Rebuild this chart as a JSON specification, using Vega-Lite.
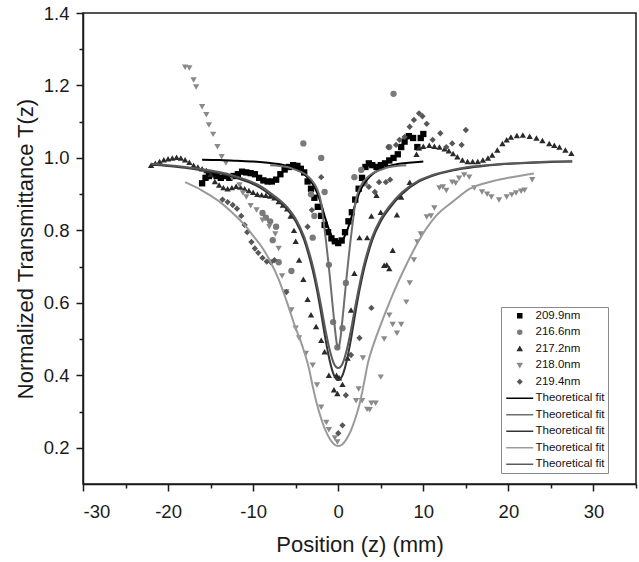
{
  "$schema": "https://vega.github.io/schema/vega-lite/v6.json",
  "autosize": {"type": "none"},
  "width": 553,
  "height": 471,
  "padding": {"left": 83, "top": 13, "right": 3, "bottom": 78},
  "background": "white",
  "datasets": {
    "pts": [
      {"s":"209.9nm","z":-16.0,"T":0.930},{"s":"209.9nm","z":-15.6,"T":0.945},{"s":"209.9nm","z":-15.2,"T":0.950},{"s":"209.9nm","z":-14.8,"T":0.955},{"s":"209.9nm","z":-14.3,"T":0.950},{"s":"209.9nm","z":-13.8,"T":0.945},{"s":"209.9nm","z":-13.3,"T":0.950},{"s":"209.9nm","z":-12.8,"T":0.945},{"s":"209.9nm","z":-12.3,"T":0.950},{"s":"209.9nm","z":-11.8,"T":0.955},{"s":"209.9nm","z":-11.3,"T":0.962},{"s":"209.9nm","z":-10.8,"T":0.960},{"s":"209.9nm","z":-10.3,"T":0.958},{"s":"209.9nm","z":-9.8,"T":0.955},{"s":"209.9nm","z":-9.3,"T":0.945},{"s":"209.9nm","z":-8.8,"T":0.938},{"s":"209.9nm","z":-8.3,"T":0.935},{"s":"209.9nm","z":-7.8,"T":0.935},{"s":"209.9nm","z":-7.3,"T":0.940},{"s":"209.9nm","z":-6.8,"T":0.955},{"s":"209.9nm","z":-6.3,"T":0.968},{"s":"209.9nm","z":-5.8,"T":0.975},{"s":"209.9nm","z":-5.3,"T":0.980},{"s":"209.9nm","z":-4.8,"T":0.978},{"s":"209.9nm","z":-4.4,"T":0.970},{"s":"209.9nm","z":-4.0,"T":0.960},{"s":"209.9nm","z":-3.6,"T":0.935},{"s":"209.9nm","z":-3.2,"T":0.915},{"s":"209.9nm","z":-2.8,"T":0.890},{"s":"209.9nm","z":-2.4,"T":0.865},{"s":"209.9nm","z":-2.0,"T":0.840},{"s":"209.9nm","z":-1.6,"T":0.815},{"s":"209.9nm","z":-1.2,"T":0.795},{"s":"209.9nm","z":-0.8,"T":0.778},{"s":"209.9nm","z":-0.4,"T":0.770},{"s":"209.9nm","z":0.0,"T":0.765},{"s":"209.9nm","z":0.4,"T":0.772},{"s":"209.9nm","z":0.8,"T":0.795},{"s":"209.9nm","z":1.2,"T":0.825},{"s":"209.9nm","z":1.6,"T":0.850},{"s":"209.9nm","z":2.0,"T":0.885},{"s":"209.9nm","z":2.4,"T":0.915},{"s":"209.9nm","z":2.8,"T":0.945},{"s":"209.9nm","z":3.2,"T":0.975},{"s":"209.9nm","z":3.6,"T":0.985},{"s":"209.9nm","z":4.0,"T":0.980},{"s":"209.9nm","z":4.5,"T":0.975},{"s":"209.9nm","z":5.0,"T":0.980},{"s":"209.9nm","z":5.5,"T":0.985},{"s":"209.9nm","z":6.0,"T":0.993},{"s":"209.9nm","z":6.5,"T":1.000},{"s":"209.9nm","z":7.0,"T":1.010},{"s":"209.9nm","z":7.4,"T":1.030},{"s":"209.9nm","z":7.8,"T":1.045},{"s":"209.9nm","z":8.3,"T":1.060},{"s":"209.9nm","z":8.8,"T":1.055},{"s":"209.9nm","z":9.3,"T":1.030},{"s":"209.9nm","z":9.7,"T":1.055},{"s":"209.9nm","z":10.0,"T":1.066},

      {"s":"216.6nm","z":-8.9,"T":0.848},{"s":"216.6nm","z":-8.5,"T":0.835},{"s":"216.6nm","z":-8.0,"T":0.825},{"s":"216.6nm","z":-7.7,"T":0.773},{"s":"216.6nm","z":-7.3,"T":0.810},{"s":"216.6nm","z":-7.0,"T":0.712},{"s":"216.6nm","z":-5.5,"T":0.688},{"s":"216.6nm","z":-4.1,"T":1.040},{"s":"216.6nm","z":-3.2,"T":0.900},{"s":"216.6nm","z":-3.0,"T":0.780},{"s":"216.6nm","z":-2.8,"T":0.840},{"s":"216.6nm","z":-2.0,"T":1.000},{"s":"216.6nm","z":-1.6,"T":0.906},{"s":"216.6nm","z":-1.1,"T":0.705},{"s":"216.6nm","z":-0.6,"T":0.547},{"s":"216.6nm","z":-0.1,"T":0.477},{"s":"216.6nm","z":0.5,"T":0.530},{"s":"216.6nm","z":0.9,"T":0.655},{"s":"216.6nm","z":1.9,"T":0.947},{"s":"216.6nm","z":2.7,"T":0.967},{"s":"216.6nm","z":3.1,"T":0.930},{"s":"216.6nm","z":6.0,"T":1.030},{"s":"216.6nm","z":6.5,"T":1.177},

      {"s":"217.2nm","z":-22.0,"T":0.980},{"s":"217.2nm","z":-21.5,"T":0.985},{"s":"217.2nm","z":-21.0,"T":0.990},{"s":"217.2nm","z":-20.5,"T":0.995},{"s":"217.2nm","z":-20.0,"T":0.998},{"s":"217.2nm","z":-19.5,"T":1.000},{"s":"217.2nm","z":-19.0,"T":1.002},{"s":"217.2nm","z":-18.5,"T":1.000},{"s":"217.2nm","z":-18.0,"T":0.995},{"s":"217.2nm","z":-17.5,"T":0.988},{"s":"217.2nm","z":-17.0,"T":0.980},{"s":"217.2nm","z":-16.5,"T":0.975},{"s":"217.2nm","z":-16.0,"T":0.970},{"s":"217.2nm","z":-15.5,"T":0.965},{"s":"217.2nm","z":-15.0,"T":0.955},{"s":"217.2nm","z":-14.5,"T":0.935},{"s":"217.2nm","z":-14.0,"T":0.925},{"s":"217.2nm","z":-13.5,"T":0.918},{"s":"217.2nm","z":-13.0,"T":0.915},{"s":"217.2nm","z":-12.5,"T":0.918},{"s":"217.2nm","z":-12.0,"T":0.922},{"s":"217.2nm","z":-11.5,"T":0.920},{"s":"217.2nm","z":-11.0,"T":0.915},{"s":"217.2nm","z":-10.5,"T":0.910},{"s":"217.2nm","z":-10.0,"T":0.905},{"s":"217.2nm","z":-9.5,"T":0.900},{"s":"217.2nm","z":-9.0,"T":0.898},{"s":"217.2nm","z":-8.5,"T":0.897},{"s":"217.2nm","z":-8.0,"T":0.895},{"s":"217.2nm","z":-7.5,"T":0.890},{"s":"217.2nm","z":-7.0,"T":0.880},{"s":"217.2nm","z":-6.5,"T":0.870},{"s":"217.2nm","z":-6.0,"T":0.860},{"s":"217.2nm","z":-5.6,"T":0.840},{"s":"217.2nm","z":-5.2,"T":0.800},{"s":"217.2nm","z":-5.0,"T":0.770},{"s":"217.2nm","z":-4.6,"T":0.718},{"s":"217.2nm","z":-4.1,"T":0.665},{"s":"217.2nm","z":-3.6,"T":0.610},{"s":"217.2nm","z":-3.2,"T":0.567},{"s":"217.2nm","z":-2.6,"T":0.535},{"s":"217.2nm","z":-2.0,"T":0.497},{"s":"217.2nm","z":-1.6,"T":0.465},{"s":"217.2nm","z":-1.1,"T":0.400},{"s":"217.2nm","z":-0.5,"T":0.360},{"s":"217.2nm","z":-0.2,"T":0.400},{"s":"217.2nm","z":-0.1,"T":0.350},{"s":"217.2nm","z":0.1,"T":0.393},{"s":"217.2nm","z":0.5,"T":0.375},{"s":"217.2nm","z":1.1,"T":0.448},{"s":"217.2nm","z":1.5,"T":0.580},{"s":"217.2nm","z":1.9,"T":0.682},{"s":"217.2nm","z":2.5,"T":0.780},{"s":"217.2nm","z":3.4,"T":0.780},{"s":"217.2nm","z":3.9,"T":0.840},{"s":"217.2nm","z":4.5,"T":0.897},{"s":"217.2nm","z":5.0,"T":0.850},{"s":"217.2nm","z":5.4,"T":0.704},{"s":"217.2nm","z":5.7,"T":0.705},{"s":"217.2nm","z":6.0,"T":0.695},{"s":"217.2nm","z":6.4,"T":0.745},{"s":"217.2nm","z":6.9,"T":0.843},{"s":"217.2nm","z":7.4,"T":0.892},{"s":"217.2nm","z":8.4,"T":0.933},{"s":"217.2nm","z":9.2,"T":1.010},{"s":"217.2nm","z":9.5,"T":1.028},{"s":"217.2nm","z":10.0,"T":1.032},{"s":"217.2nm","z":10.7,"T":1.035},{"s":"217.2nm","z":11.3,"T":1.032},{"s":"217.2nm","z":11.9,"T":1.030},{"s":"217.2nm","z":12.5,"T":1.025},{"s":"217.2nm","z":13.0,"T":1.020},{"s":"217.2nm","z":13.5,"T":1.012},{"s":"217.2nm","z":14.0,"T":1.003},{"s":"217.2nm","z":14.6,"T":0.994},{"s":"217.2nm","z":15.2,"T":0.990},{"s":"217.2nm","z":15.8,"T":0.990},{"s":"217.2nm","z":16.4,"T":0.990},{"s":"217.2nm","z":17.0,"T":0.994},{"s":"217.2nm","z":17.6,"T":1.000},{"s":"217.2nm","z":18.1,"T":1.008},{"s":"217.2nm","z":18.7,"T":1.022},{"s":"217.2nm","z":19.3,"T":1.040},{"s":"217.2nm","z":19.8,"T":1.050},{"s":"217.2nm","z":20.3,"T":1.058},{"s":"217.2nm","z":21.0,"T":1.062},{"s":"217.2nm","z":21.7,"T":1.063},{"s":"217.2nm","z":22.5,"T":1.060},{"s":"217.2nm","z":23.3,"T":1.055},{"s":"217.2nm","z":24.0,"T":1.048},{"s":"217.2nm","z":24.8,"T":1.040},{"s":"217.2nm","z":25.4,"T":1.035},{"s":"217.2nm","z":26.0,"T":1.030},{"s":"217.2nm","z":26.7,"T":1.022},{"s":"217.2nm","z":27.4,"T":1.013},

      {"s":"218.0nm","z":-18.0,"T":1.250},{"s":"218.0nm","z":-17.5,"T":1.248},{"s":"218.0nm","z":-17.0,"T":1.215},{"s":"218.0nm","z":-16.7,"T":1.196},{"s":"218.0nm","z":-16.0,"T":1.141},{"s":"218.0nm","z":-15.5,"T":1.119},{"s":"218.0nm","z":-15.2,"T":1.091},{"s":"218.0nm","z":-14.7,"T":1.065},{"s":"218.0nm","z":-14.2,"T":1.031},{"s":"218.0nm","z":-13.7,"T":1.003},{"s":"218.0nm","z":-13.2,"T":0.986},{"s":"218.0nm","z":-12.5,"T":0.945},{"s":"218.0nm","z":-11.6,"T":0.925},{"s":"218.0nm","z":-11.2,"T":0.903},{"s":"218.0nm","z":-10.8,"T":0.892},{"s":"218.0nm","z":-10.3,"T":0.868},{"s":"218.0nm","z":-9.6,"T":0.856},{"s":"218.0nm","z":-8.9,"T":0.828},{"s":"218.0nm","z":-8.1,"T":0.810},{"s":"218.0nm","z":-7.4,"T":0.790},{"s":"218.0nm","z":-7.0,"T":0.750},{"s":"218.0nm","z":-6.6,"T":0.674},{"s":"218.0nm","z":-6.1,"T":0.630},{"s":"218.0nm","z":-5.5,"T":0.580},{"s":"218.0nm","z":-5.0,"T":0.530},{"s":"218.0nm","z":-4.6,"T":0.503},{"s":"218.0nm","z":-3.8,"T":0.460},{"s":"218.0nm","z":-3.0,"T":0.428},{"s":"218.0nm","z":-2.5,"T":0.373},{"s":"218.0nm","z":-2.0,"T":0.312},{"s":"218.0nm","z":-1.4,"T":0.270},{"s":"218.0nm","z":-1.1,"T":0.250},{"s":"218.0nm","z":-0.4,"T":0.227},{"s":"218.0nm","z":-0.1,"T":0.216},{"s":"218.0nm","z":2.1,"T":0.330},{"s":"218.0nm","z":2.4,"T":0.362},{"s":"218.0nm","z":2.8,"T":0.330},{"s":"218.0nm","z":2.9,"T":0.448},{"s":"218.0nm","z":3.4,"T":0.306},{"s":"218.0nm","z":3.7,"T":0.305},{"s":"218.0nm","z":3.9,"T":0.323},{"s":"218.0nm","z":4.4,"T":0.323},{"s":"218.0nm","z":5.0,"T":0.395},{"s":"218.0nm","z":5.4,"T":0.500},{"s":"218.0nm","z":6.0,"T":0.566},{"s":"218.0nm","z":6.4,"T":0.540},{"s":"218.0nm","z":6.9,"T":0.516},{"s":"218.0nm","z":7.4,"T":0.540},{"s":"218.0nm","z":8.0,"T":0.602},{"s":"218.0nm","z":8.4,"T":0.655},{"s":"218.0nm","z":8.9,"T":0.718},{"s":"218.0nm","z":9.3,"T":0.768},{"s":"218.0nm","z":9.7,"T":0.790},{"s":"218.0nm","z":10.4,"T":0.837},{"s":"218.0nm","z":10.9,"T":0.840},{"s":"218.0nm","z":11.3,"T":0.862},{"s":"218.0nm","z":11.9,"T":0.917},{"s":"218.0nm","z":12.3,"T":0.920},{"s":"218.0nm","z":12.7,"T":0.910},{"s":"218.0nm","z":13.4,"T":0.933},{"s":"218.0nm","z":13.8,"T":0.930},{"s":"218.0nm","z":14.2,"T":0.944},{"s":"218.0nm","z":14.8,"T":0.953},{"s":"218.0nm","z":15.4,"T":0.947},{"s":"218.0nm","z":16.0,"T":0.917},{"s":"218.0nm","z":16.9,"T":0.906},{"s":"218.0nm","z":17.5,"T":0.900},{"s":"218.0nm","z":18.0,"T":0.892},{"s":"218.0nm","z":18.9,"T":0.884},{"s":"218.0nm","z":19.8,"T":0.892},{"s":"218.0nm","z":20.4,"T":0.898},{"s":"218.0nm","z":20.9,"T":0.903},{"s":"218.0nm","z":21.5,"T":0.908},{"s":"218.0nm","z":21.9,"T":0.911},{"s":"218.0nm","z":22.8,"T":0.940},

      {"s":"219.4nm","z":-13.6,"T":0.885},{"s":"219.4nm","z":-13.0,"T":0.878},{"s":"219.4nm","z":-12.4,"T":0.870},{"s":"219.4nm","z":-11.9,"T":0.860},{"s":"219.4nm","z":-11.4,"T":0.840},{"s":"219.4nm","z":-11.0,"T":0.815},{"s":"219.4nm","z":-10.7,"T":0.795},{"s":"219.4nm","z":-10.2,"T":0.768},{"s":"219.4nm","z":-9.8,"T":0.750},{"s":"219.4nm","z":-9.4,"T":0.738},{"s":"219.4nm","z":-8.9,"T":0.724},{"s":"219.4nm","z":-8.4,"T":0.714},{"s":"219.4nm","z":-7.9,"T":0.712},{"s":"219.4nm","z":-7.5,"T":0.718},{"s":"219.4nm","z":-6.1,"T":0.630},{"s":"219.4nm","z":-3.6,"T":0.810},{"s":"219.4nm","z":-3.1,"T":0.856},{"s":"219.4nm","z":-2.0,"T":0.947},{"s":"219.4nm","z":0.0,"T":0.240},{"s":"219.4nm","z":0.5,"T":0.262},{"s":"219.4nm","z":0.9,"T":0.345},{"s":"219.4nm","z":1.5,"T":0.456},{"s":"219.4nm","z":2.5,"T":0.503},{"s":"219.4nm","z":3.9,"T":0.586},{"s":"219.4nm","z":3.6,"T":0.920},{"s":"219.4nm","z":4.3,"T":0.906},{"s":"219.4nm","z":4.8,"T":0.933},{"s":"219.4nm","z":5.6,"T":0.933},{"s":"219.4nm","z":6.1,"T":0.940},{"s":"219.4nm","z":5.9,"T":1.030},{"s":"219.4nm","z":6.8,"T":1.036},{"s":"219.4nm","z":7.2,"T":1.050},{"s":"219.4nm","z":7.8,"T":1.058},{"s":"219.4nm","z":8.4,"T":1.086},{"s":"219.4nm","z":8.9,"T":1.105},{"s":"219.4nm","z":9.5,"T":1.123},{"s":"219.4nm","z":9.9,"T":1.115},{"s":"219.4nm","z":10.4,"T":1.094},{"s":"219.4nm","z":11.1,"T":1.050},{"s":"219.4nm","z":12.0,"T":1.068},{"s":"219.4nm","z":12.7,"T":1.030},{"s":"219.4nm","z":13.4,"T":1.040},{"s":"219.4nm","z":14.5,"T":1.036},{"s":"219.4nm","z":15.0,"T":1.077}
    ],
    "fits": [
      {"s":"Theoretical fit 1","z":-16,"T":0.995},{"s":"Theoretical fit 1","z":-14,"T":0.994},{"s":"Theoretical fit 1","z":-12,"T":0.992},{"s":"Theoretical fit 1","z":-10,"T":0.990},{"s":"Theoretical fit 1","z":-8,"T":0.986},{"s":"Theoretical fit 1","z":-7,"T":0.983},{"s":"Theoretical fit 1","z":-6,"T":0.978},{"s":"Theoretical fit 1","z":-5,"T":0.970},{"s":"Theoretical fit 1","z":-4.5,"T":0.964},{"s":"Theoretical fit 1","z":-4,"T":0.955},{"s":"Theoretical fit 1","z":-3.5,"T":0.943},{"s":"Theoretical fit 1","z":-3,"T":0.928},{"s":"Theoretical fit 1","z":-2.5,"T":0.905},{"s":"Theoretical fit 1","z":-2,"T":0.872},{"s":"Theoretical fit 1","z":-1.5,"T":0.832},{"s":"Theoretical fit 1","z":-1,"T":0.797},{"s":"Theoretical fit 1","z":-0.5,"T":0.773},{"s":"Theoretical fit 1","z":0,"T":0.765},{"s":"Theoretical fit 1","z":0.5,"T":0.773},{"s":"Theoretical fit 1","z":1,"T":0.797},{"s":"Theoretical fit 1","z":1.5,"T":0.832},{"s":"Theoretical fit 1","z":2,"T":0.872},{"s":"Theoretical fit 1","z":2.5,"T":0.905},{"s":"Theoretical fit 1","z":3,"T":0.928},{"s":"Theoretical fit 1","z":3.5,"T":0.943},{"s":"Theoretical fit 1","z":4,"T":0.955},{"s":"Theoretical fit 1","z":5,"T":0.970},{"s":"Theoretical fit 1","z":6,"T":0.978},{"s":"Theoretical fit 1","z":7,"T":0.983},{"s":"Theoretical fit 1","z":8,"T":0.986},{"s":"Theoretical fit 1","z":9,"T":0.988},{"s":"Theoretical fit 1","z":10,"T":0.990},

      {"s":"Theoretical fit 2","z":-8,"T":0.980},{"s":"Theoretical fit 2","z":-6,"T":0.975},{"s":"Theoretical fit 2","z":-5,"T":0.967},{"s":"Theoretical fit 2","z":-4,"T":0.957},{"s":"Theoretical fit 2","z":-3.5,"T":0.948},{"s":"Theoretical fit 2","z":-3,"T":0.935},{"s":"Theoretical fit 2","z":-2.5,"T":0.915},{"s":"Theoretical fit 2","z":-2,"T":0.875},{"s":"Theoretical fit 2","z":-1.75,"T":0.83},{"s":"Theoretical fit 2","z":-1.45,"T":0.773},{"s":"Theoretical fit 2","z":-1.2,"T":0.72},{"s":"Theoretical fit 2","z":-1,"T":0.675},{"s":"Theoretical fit 2","z":-0.75,"T":0.615},{"s":"Theoretical fit 2","z":-0.5,"T":0.555},{"s":"Theoretical fit 2","z":-0.3,"T":0.51},{"s":"Theoretical fit 2","z":-0.15,"T":0.485},{"s":"Theoretical fit 2","z":0,"T":0.477},{"s":"Theoretical fit 2","z":0.15,"T":0.485},{"s":"Theoretical fit 2","z":0.3,"T":0.51},{"s":"Theoretical fit 2","z":0.5,"T":0.555},{"s":"Theoretical fit 2","z":0.75,"T":0.615},{"s":"Theoretical fit 2","z":1,"T":0.675},{"s":"Theoretical fit 2","z":1.2,"T":0.72},{"s":"Theoretical fit 2","z":1.45,"T":0.773},{"s":"Theoretical fit 2","z":1.75,"T":0.83},{"s":"Theoretical fit 2","z":2,"T":0.875},{"s":"Theoretical fit 2","z":2.5,"T":0.915},{"s":"Theoretical fit 2","z":3,"T":0.935},{"s":"Theoretical fit 2","z":3.5,"T":0.948},{"s":"Theoretical fit 2","z":4,"T":0.957},{"s":"Theoretical fit 2","z":5,"T":0.967},{"s":"Theoretical fit 2","z":6,"T":0.975},{"s":"Theoretical fit 2","z":8,"T":0.980},

      {"s":"Theoretical fit 3","z":-22,"T":0.982},{"s":"Theoretical fit 3","z":-20,"T":0.978},{"s":"Theoretical fit 3","z":-18,"T":0.973},{"s":"Theoretical fit 3","z":-16,"T":0.966},{"s":"Theoretical fit 3","z":-14,"T":0.958},{"s":"Theoretical fit 3","z":-12,"T":0.945},{"s":"Theoretical fit 3","z":-10,"T":0.928},{"s":"Theoretical fit 3","z":-9,"T":0.915},{"s":"Theoretical fit 3","z":-8,"T":0.898},{"s":"Theoretical fit 3","z":-7,"T":0.880},{"s":"Theoretical fit 3","z":-6,"T":0.858},{"s":"Theoretical fit 3","z":-5,"T":0.825},{"s":"Theoretical fit 3","z":-4,"T":0.773},{"s":"Theoretical fit 3","z":-3.5,"T":0.735},{"s":"Theoretical fit 3","z":-3,"T":0.690},{"s":"Theoretical fit 3","z":-2.5,"T":0.635},{"s":"Theoretical fit 3","z":-2,"T":0.570},{"s":"Theoretical fit 3","z":-1.5,"T":0.500},{"s":"Theoretical fit 3","z":-1,"T":0.440},{"s":"Theoretical fit 3","z":-0.5,"T":0.400},{"s":"Theoretical fit 3","z":0,"T":0.387},{"s":"Theoretical fit 3","z":0.5,"T":0.400},{"s":"Theoretical fit 3","z":1,"T":0.440},{"s":"Theoretical fit 3","z":1.5,"T":0.500},{"s":"Theoretical fit 3","z":2,"T":0.570},{"s":"Theoretical fit 3","z":2.5,"T":0.635},{"s":"Theoretical fit 3","z":3,"T":0.690},{"s":"Theoretical fit 3","z":3.5,"T":0.735},{"s":"Theoretical fit 3","z":4,"T":0.773},{"s":"Theoretical fit 3","z":5,"T":0.825},{"s":"Theoretical fit 3","z":6,"T":0.860},{"s":"Theoretical fit 3","z":7.5,"T":0.900},{"s":"Theoretical fit 3","z":9.5,"T":0.935},{"s":"Theoretical fit 3","z":11,"T":0.950},{"s":"Theoretical fit 3","z":13.4,"T":0.965},{"s":"Theoretical fit 3","z":16,"T":0.975},{"s":"Theoretical fit 3","z":19,"T":0.982},{"s":"Theoretical fit 3","z":22,"T":0.986},{"s":"Theoretical fit 3","z":25,"T":0.989},{"s":"Theoretical fit 3","z":27.5,"T":0.990},

      {"s":"Theoretical fit 4","z":-18,"T":0.933},{"s":"Theoretical fit 4","z":-16,"T":0.910},{"s":"Theoretical fit 4","z":-14,"T":0.880},{"s":"Theoretical fit 4","z":-12.5,"T":0.850},{"s":"Theoretical fit 4","z":-11,"T":0.815},{"s":"Theoretical fit 4","z":-10,"T":0.785},{"s":"Theoretical fit 4","z":-9,"T":0.755},{"s":"Theoretical fit 4","z":-8,"T":0.715},{"s":"Theoretical fit 4","z":-7,"T":0.665},{"s":"Theoretical fit 4","z":-6,"T":0.600},{"s":"Theoretical fit 4","z":-5,"T":0.530},{"s":"Theoretical fit 4","z":-4.5,"T":0.500},{"s":"Theoretical fit 4","z":-4,"T":0.465},{"s":"Theoretical fit 4","z":-3.5,"T":0.425},{"s":"Theoretical fit 4","z":-3,"T":0.370},{"s":"Theoretical fit 4","z":-2.5,"T":0.320},{"s":"Theoretical fit 4","z":-2,"T":0.280},{"s":"Theoretical fit 4","z":-1.5,"T":0.248},{"s":"Theoretical fit 4","z":-1,"T":0.225},{"s":"Theoretical fit 4","z":-0.5,"T":0.210},{"s":"Theoretical fit 4","z":0,"T":0.205},{"s":"Theoretical fit 4","z":0.5,"T":0.210},{"s":"Theoretical fit 4","z":1,"T":0.225},{"s":"Theoretical fit 4","z":1.5,"T":0.248},{"s":"Theoretical fit 4","z":2,"T":0.280},{"s":"Theoretical fit 4","z":2.5,"T":0.320},{"s":"Theoretical fit 4","z":3,"T":0.375},{"s":"Theoretical fit 4","z":3.5,"T":0.435},{"s":"Theoretical fit 4","z":4,"T":0.475},{"s":"Theoretical fit 4","z":5,"T":0.540},{"s":"Theoretical fit 4","z":6,"T":0.600},{"s":"Theoretical fit 4","z":7,"T":0.655},{"s":"Theoretical fit 4","z":8,"T":0.705},{"s":"Theoretical fit 4","z":9.5,"T":0.773},{"s":"Theoretical fit 4","z":11.5,"T":0.840},{"s":"Theoretical fit 4","z":13.5,"T":0.880},{"s":"Theoretical fit 4","z":15.5,"T":0.915},{"s":"Theoretical fit 4","z":18,"T":0.935},{"s":"Theoretical fit 4","z":20,"T":0.945},{"s":"Theoretical fit 4","z":23,"T":0.957},

      {"s":"Theoretical fit 5","z":-22,"T":0.984},{"s":"Theoretical fit 5","z":-20,"T":0.980},{"s":"Theoretical fit 5","z":-18,"T":0.975},{"s":"Theoretical fit 5","z":-16,"T":0.969},{"s":"Theoretical fit 5","z":-14,"T":0.961},{"s":"Theoretical fit 5","z":-12,"T":0.949},{"s":"Theoretical fit 5","z":-10,"T":0.932},{"s":"Theoretical fit 5","z":-9,"T":0.920},{"s":"Theoretical fit 5","z":-8,"T":0.904},{"s":"Theoretical fit 5","z":-7,"T":0.886},{"s":"Theoretical fit 5","z":-6,"T":0.864},{"s":"Theoretical fit 5","z":-5,"T":0.832},{"s":"Theoretical fit 5","z":-4,"T":0.782},{"s":"Theoretical fit 5","z":-3.5,"T":0.746},{"s":"Theoretical fit 5","z":-3,"T":0.703},{"s":"Theoretical fit 5","z":-2.5,"T":0.650},{"s":"Theoretical fit 5","z":-2,"T":0.590},{"s":"Theoretical fit 5","z":-1.5,"T":0.525},{"s":"Theoretical fit 5","z":-1,"T":0.470},{"s":"Theoretical fit 5","z":-0.5,"T":0.432},{"s":"Theoretical fit 5","z":0,"T":0.420},{"s":"Theoretical fit 5","z":0.5,"T":0.432},{"s":"Theoretical fit 5","z":1,"T":0.470},{"s":"Theoretical fit 5","z":1.5,"T":0.525},{"s":"Theoretical fit 5","z":2,"T":0.590},{"s":"Theoretical fit 5","z":2.5,"T":0.650},{"s":"Theoretical fit 5","z":3,"T":0.703},{"s":"Theoretical fit 5","z":3.5,"T":0.746},{"s":"Theoretical fit 5","z":4,"T":0.782},{"s":"Theoretical fit 5","z":5,"T":0.832},{"s":"Theoretical fit 5","z":6,"T":0.866},{"s":"Theoretical fit 5","z":7.5,"T":0.905},{"s":"Theoretical fit 5","z":9.5,"T":0.938},{"s":"Theoretical fit 5","z":11,"T":0.952},{"s":"Theoretical fit 5","z":13.4,"T":0.967},{"s":"Theoretical fit 5","z":16,"T":0.977},{"s":"Theoretical fit 5","z":19,"T":0.983},{"s":"Theoretical fit 5","z":22,"T":0.987},{"s":"Theoretical fit 5","z":25,"T":0.990},{"s":"Theoretical fit 5","z":27.5,"T":0.991}
    ]
  },
  "encoding": {
    "x": {
      "field": "z", "type": "quantitative",
      "scale": {"domain": [-30, 35], "nice": false, "zero": false},
      "axis": {
        "title": "Position (z) (mm)",
        "values": [-30,-25,-20,-15,-10,-5,0,5,10,15,20,25,30,35],
        "labelExpr": "datum.value % 10 === 0 ? toString(datum.value) : ''",
        "tickSize": {"condition": {"test": "datum.value % 10 === 0", "value": 7}, "value": 4},
        "labelFontSize": 18.5, "labelPadding": 11, "titleFontSize": 22, "titlePadding": 14
      }
    },
    "y": {
      "field": "T", "type": "quantitative",
      "scale": {"domain": [0.1, 1.4], "nice": false, "zero": false},
      "axis": {
        "title": "Normalized Transmittance T(z)",
        "values": [0.2,0.3,0.4,0.5,0.6,0.7,0.8,0.9,1.0,1.1,1.2,1.3,1.4],
        "labelExpr": "round(datum.value*10) % 2 === 0 ? format(datum.value, '.1f') : ''",
        "tickSize": {"condition": {"test": "round(datum.value*10) % 2 === 0", "value": 7}, "value": 4},
        "labelFontSize": 18.5, "labelPadding": 7, "titleFontSize": 22, "titlePadding": 6
      }
    }
  },
  "layer": [
    {
      "data": {"name": "pts"},
      "mark": {"type": "point", "filled": true, "size": 40, "opacity": 1},
      "encoding": {
        "color": {"field": "s", "type": "nominal", "title": null,
          "scale": {
            "domain": ["209.9nm","216.6nm","217.2nm","218.0nm","219.4nm","Theoretical fit 1","Theoretical fit 2","Theoretical fit 3","Theoretical fit 4","Theoretical fit 5"],
            "range": ["#000000","#7a7a7a","#2a2a2a","#8a8a8a","#575757","#000000","#6e6e6e","#333333","#9a9a9a","#5a5a5a"]
          },
          "legend": {
            "orient": "none", "legendX": 418, "legendY": 294,
            "labelExpr": "indexof(datum.label, 'Theoretical') === 0 ? 'Theoretical fit' : datum.label",
            "strokeColor": "#8a8a8a", "fillColor": "white", "padding": 3,
            "labelFont": "Liberation Sans", "labelFontSize": 11.5, "labelColor": "#111111",
            "symbolSize": 16, "rowPadding": 3.5, "symbolOffset": 10, "labelOffset": 10,
            "encode": {"symbols": {"update": {"fill": {"scale": "color", "field": "value"}, "stroke": {"scale": "color", "field": "value"}, "strokeWidth": {"value": 1.8}, "opacity": {"value": 1}}}}
          }
        },
        "shape": {"field": "s", "type": "nominal", "title": null,
          "scale": {
            "domain": ["209.9nm","216.6nm","217.2nm","218.0nm","219.4nm","Theoretical fit 1","Theoretical fit 2","Theoretical fit 3","Theoretical fit 4","Theoretical fit 5"],
            "range": ["square","circle","triangle-up","triangle-down","diamond","M-6.75,0H6.75","M-6.75,0H6.75","M-6.75,0H6.75","M-6.75,0H6.75","M-6.75,0H6.75"]
          }
        }
      }
    },
    {
      "data": {"name": "fits"},
      "mark": {"type": "line", "strokeWidth": 2, "interpolate": "monotone"},
      "encoding": {
        "color": {"field": "s", "type": "nominal", "title": null},
        "order": {"field": "z", "type": "quantitative"}
      }
    }
  ],
  "config": {
    "view": {"stroke": "#1a1a1a", "strokeWidth": 1.5},
    "axis": {"grid": false, "domainColor": "#1a1a1a", "domainWidth": 1.5, "tickColor": "#1a1a1a", "tickWidth": 1.5,
      "labelFont": "Liberation Sans", "titleFont": "Liberation Sans", "labelColor": "#1a1a1a", "titleColor": "#1a1a1a", "titleFontWeight": "normal"}
  }
}
